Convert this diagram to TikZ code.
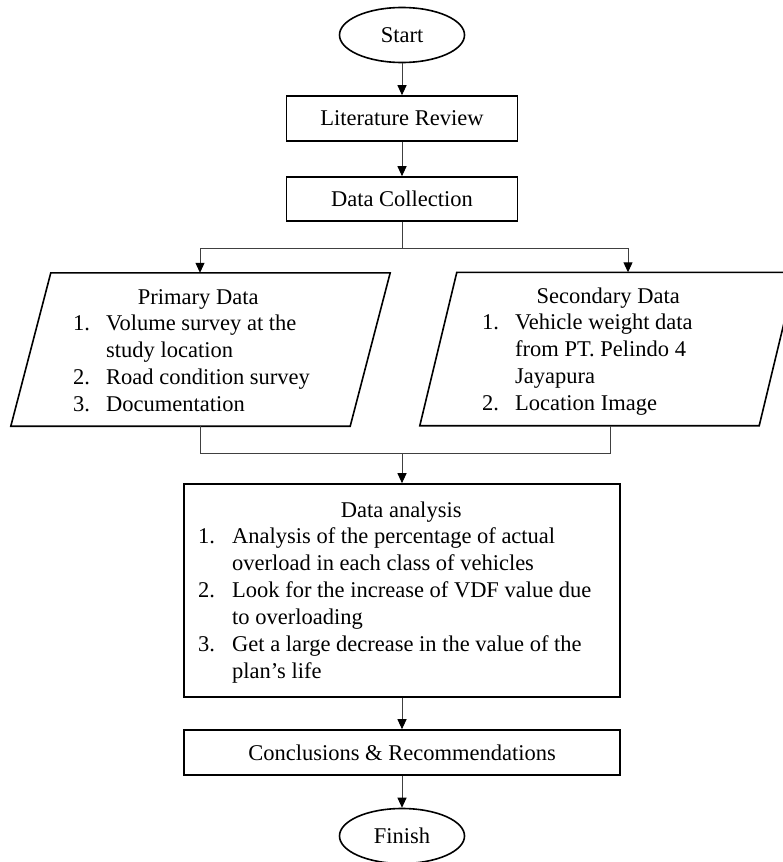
\documentclass[tikz,border=0pt]{standalone}
\usepackage{fontspec}
\setmainfont{Liberation Serif}
\usetikzlibrary{shapes.geometric,arrows.meta}
\begin{document}
\begin{tikzpicture}[x=1bp,y=-1bp,
  font=\fontsize{22.5bp}{26.9bp}\selectfont,
  box/.style={draw, line width=1.6bp, rectangle, inner sep=0pt},
  oval/.style={draw, line width=1.6bp, ellipse, inner sep=0pt, minimum width=125bp, minimum height=55bp},
  paraframe/.style={rectangle, draw=none, inner sep=0pt, minimum width=339bp, minimum height=153bp},
  paraline/.style={draw, line width=1.6bp, line join=miter},
  conn/.style={line width=1bp, draw=black!75},
  arr/.style={conn, -{Triangle[length=10bp,width=9bp,color=black,fill=black]}},
  txt/.style={inner sep=0pt, anchor=base west}
]
\useasboundingbox (0,0) rectangle (783,862);
\clip (0,0) rectangle (783,862);

\node[oval] (start) at (402,35) {Start};
\node[box, minimum width=231bp, minimum height=45bp] (lit) at (402,118.5) {Literature Review};
\node[box, minimum width=231bp, minimum height=44bp] (dc) at (402,199) {Data Collection};
\node[paraframe] (prim) at (200.5,349.5) {};
\node[paraframe] (sec) at (608,349) {};
\draw[paraline] ([xshift=20bp]prim.north west) -- ([xshift=20bp]prim.north east)
  -- ([xshift=-20bp]prim.south east) -- ([xshift=-20bp]prim.south west) -- cycle;
\draw[paraline] ([xshift=18.5bp]sec.north west) -- ([xshift=18.5bp]sec.north east)
  -- ([xshift=-18.5bp]sec.south east) -- ([xshift=-18.5bp]sec.south west) -- cycle;
\node[box, minimum width=436bp, minimum height=213bp] (ana) at (402,590.5) {};
\node[box, minimum width=436bp, minimum height=45bp] (conc) at (402,752.5) {Conclusions \& Recommendations};
\node[oval] (fin) at (402,836) {Finish};

\node[txt] (primtxt) at (73,304) {\begin{tabular}[t]{@{}p{33bp}@{}p{217bp}@{}}
\multicolumn{2}{@{}c@{}}{Primary Data}\\
1. & Volume survey at the\\
 & study location\\
2. & Road condition survey\\
3. & Documentation
\end{tabular}};

\node[txt] (sectxt) at (482,303) {\begin{tabular}[t]{@{}p{33bp}@{}p{219bp}@{}}
\multicolumn{2}{@{}c@{}}{Secondary Data}\\
1. & Vehicle weight data\\
 & from PT. Pelindo 4\\
 & Jayapura\\
2. & Location Image
\end{tabular}};

\node[txt] (anatxt) at (198,517) {\begin{tabular}[t]{@{}p{34bp}@{}p{372bp}@{}}
\multicolumn{2}{@{}c@{}}{Data analysis}\\
1. & Analysis of the percentage of actual\\
 & overload in each class of vehicles\\
2. & Look for the increase of VDF value due\\
 & to overloading\\
3. & Get a large decrease in the value of the\\
 & plan’s life
\end{tabular}};

\coordinate (xL) at (200,0);
\coordinate (xR) at (628,0);
\coordinate (xR2) at (610,0);
\coordinate (br) at (402,248);
\coordinate (mg) at (402,453);

\draw[arr] (start) -- (lit);
\draw[arr] (lit) -- (dc);
\draw[conn] (dc) -- (br);
\draw[arr] (br) -| (prim.north -| xL);
\draw[arr] (br) -| (sec.north -| xR);
\draw[conn] (prim.south -| xL) |- (mg);
\draw[conn] (sec.south -| xR2) |- (mg);
\draw[arr] (mg) -- (ana);
\draw[arr] (ana) -- (conc);
\draw[arr] (conc) -- (fin);
\end{tikzpicture}
\end{document}
